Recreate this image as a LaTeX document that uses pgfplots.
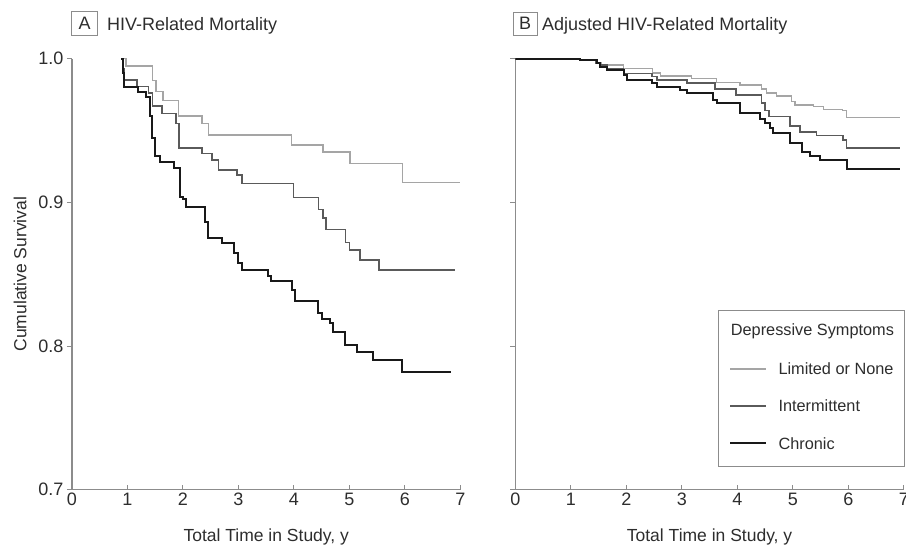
\documentclass[border=0pt]{standalone}
\usepackage{fontspec}
\setmainfont{Liberation Sans}
\usepackage{pgfplots}
\pgfplotsset{compat=1.18}

\definecolor{txt}{RGB}{45,45,45}
\definecolor{axisgray}{RGB}{140,140,140}
\definecolor{limited}{RGB}{165,165,165}
\definecolor{intermit}{RGB}{90,90,90}
\definecolor{chronic}{RGB}{25,25,25}

\pgfplotsset{
  km/.style={
    scale only axis, width=388.5pt, height=431pt,
    xmin=0, xmax=7, ymin=0.7, ymax=1.0,
    axis x line*=bottom, axis y line*=left,
    axis line style={axisgray, line width=1.1pt},
    xtick={0,1,...,7}, ytick={0.7,0.8,0.9,1.0},
    xtick align=inside, ytick align=outside,
    major tick length=5pt,
    every tick/.style={axisgray, line width=1pt},
    /pgf/number format/assume math mode=true,
    yticklabel style={/pgf/number format/fixed, /pgf/number format/fixed zerofill, /pgf/number format/precision=1},
    tick label style={font=\fontsize{18}{20}\selectfont, text=txt},
    every axis x label/.style={at={(axis description cs:0.5,0)}, anchor=base, yshift=-52pt,
      font=\fontsize{17.5}{20}\selectfont, text=txt},
    every axis y label/.style={at={(axis description cs:0,0.5)}, rotate=90, anchor=center, yshift=52pt,
      font=\fontsize{17.5}{20}\selectfont, text=txt},
    xlabel={Total Time in Study, y},
  },
  lim/.style={const plot, limited, line width=1.4pt},
  int/.style={const plot, intermit, line width=1.5pt},
  chr/.style={const plot, chronic, line width=2pt},
}

\begin{document}
\begin{tikzpicture}[x=1pt, y=1pt]
\path[use as bounding box] (0,0) rectangle (906,552);

% panel A
\begin{axis}[km, at={(72pt,62.3pt)}, anchor=south west, ylabel={Cumulative Survival}]
\addplot[lim] coordinates {(0.89,1.000)(0.97,0.995)(1.45,0.985)(1.51,0.977)(1.64,0.971)(1.92,0.960)(2.34,0.955)(2.46,0.947)(3.95,0.940)(4.52,0.935)(5.01,0.927)(5.96,0.914)(6.99,0.914)};
\addplot[int] coordinates {(0.89,1.000)(0.91,0.993)(0.94,0.985)(1.17,0.9805)(1.38,0.976)(1.45,0.967)(1.62,0.962)(1.87,0.955)(1.93,0.938)(2.34,0.934)(2.52,0.9295)(2.64,0.9225)(2.97,0.919)(3.06,0.913)(3.99,0.9035)(4.44,0.895)(4.52,0.889)(4.58,0.881)(4.93,0.872)(5.00,0.867)(5.19,0.860)(5.53,0.853)(6.90,0.853)};
\addplot[chr] coordinates {(0.89,1.000)(0.91,0.990)(0.94,0.980)(1.19,0.977)(1.34,0.9735)(1.40,0.960)(1.45,0.945)(1.50,0.932)(1.58,0.928)(1.83,0.924)(1.95,0.904)(2.00,0.902)(2.06,0.897)(2.40,0.886)(2.45,0.875)(2.71,0.872)(2.92,0.865)(3.00,0.858)(3.06,0.853)(3.54,0.849)(3.58,0.845)(3.97,0.839)(4.02,0.831)(4.44,0.823)(4.50,0.819)(4.65,0.816)(4.70,0.810)(4.92,0.801)(5.13,0.796)(5.43,0.790)(5.94,0.782)(6.82,0.782)};
\end{axis}

% panel B
\begin{axis}[km, at={(515.3pt,62.3pt)}, anchor=south west, yticklabels={}]
\addplot[lim] coordinates {(0,1.000)(1.17,0.999)(1.45,0.997)(1.55,0.9956)(1.95,0.9933)(2.47,0.990)(2.62,0.988)(3.18,0.9864)(3.62,0.9835)(4.05,0.9817)(4.44,0.979)(4.53,0.976)(4.71,0.974)(4.98,0.970)(5.04,0.9678)(5.37,0.9666)(5.55,0.9648)(5.90,0.9638)(5.97,0.959)(6.93,0.959)};
\addplot[int] coordinates {(0,1.000)(1.17,0.999)(1.45,0.997)(1.53,0.9956)(1.65,0.993)(1.95,0.9898)(2.46,0.9875)(2.55,0.985)(3.09,0.983)(3.60,0.979)(3.98,0.9747)(4.44,0.969)(4.50,0.964)(4.57,0.9597)(4.95,0.953)(5.13,0.949)(5.43,0.9465)(5.90,0.9434)(5.97,0.938)(6.93,0.938)};
\addplot[chr] coordinates {(0,1.000)(1.17,0.999)(1.47,0.9968)(1.53,0.9944)(1.65,0.992)(1.95,0.9887)(2.01,0.9852)(2.46,0.983)(2.55,0.9805)(2.97,0.978)(3.09,0.976)(3.57,0.971)(3.63,0.969)(4.05,0.962)(4.41,0.958)(4.50,0.955)(4.59,0.9516)(4.65,0.948)(4.95,0.941)(5.16,0.935)(5.31,0.932)(5.49,0.9295)(5.97,0.923)(6.93,0.923)};
\end{axis}

% panel titles
\begin{scope}[every node/.style={text=txt, font=\fontsize{18}{20}\selectfont, inner sep=0pt}]
\draw[axisgray, line width=0.8pt] (71.7,517) rectangle (97.7,540.3);
\node[anchor=base] at (84.7,522) {A};
\node[anchor=base west] at (107,521.3) {HIV-Related Mortality};
\draw[axisgray, line width=0.8pt] (513,516.5) rectangle (537,539.5);
\node[anchor=base] at (525,522) {B};
\node[anchor=base west] at (542,521.3) {Adjusted HIV-Related Mortality};
\end{scope}

% legend
\begin{scope}[every node/.style={text=txt, font=\fontsize{16.3}{18}\selectfont, inner sep=0pt, anchor=west}]
\draw[axisgray, line width=0.9pt] (718.3,86) rectangle (904,241.3);
\node at (730.7,220.3) {Depressive Symptoms};
\draw[limited, line width=1.4pt] (730,183) -- (766,183);
\node at (778.3,183) {Limited or None};
\draw[intermit, line width=1.5pt] (730,146) -- (766,146);
\node at (778.3,146) {Intermittent};
\draw[chronic, line width=2pt] (730,108.7) -- (766,108.7);
\node at (778.3,108.7) {Chronic};
\end{scope}
\end{tikzpicture}
\end{document}
